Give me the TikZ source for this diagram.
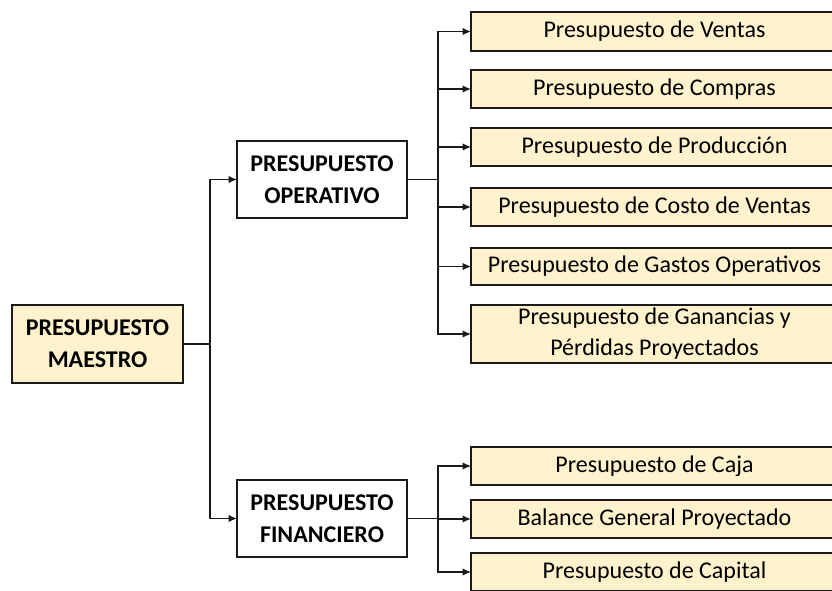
\documentclass[tikz,border=0pt]{standalone}
\usepackage{fontspec}
\setmainfont{Carlito}
\usetikzlibrary{arrows.meta}
\definecolor{boxfill}{HTML}{FFF2CC}
\definecolor{linec}{HTML}{1A1A1A}
\begin{document}
\begin{tikzpicture}[x=1pt,y=-1pt,
  every node/.style={inner sep=0pt, outer sep=0pt},
  mainbox/.style={draw=linec, line width=1.3pt, align=center,
    font=\fontsize{24}{32}\selectfont\bfseries, text=black},
  leafbox/.style={draw=linec, line width=1.3pt, fill=boxfill, align=center,
    minimum width=367pt, font=\fontsize{24}{31}\selectfont, text=black},
  conn/.style={line width=1.3pt, draw=linec},
  arr/.style={conn, -{Latex[length=8.5pt,width=7.5pt]}}]
\clip (0,0) rectangle (832,590);
\useasboundingbox (0,0) rectangle (832,590);
% left boxes
\node[mainbox, fill=boxfill, minimum width=171pt, minimum height=78pt] (maestro) at (97.5,344) {PRESUPUESTO\\MAESTRO};
\node[mainbox, fill=white, minimum width=170pt, minimum height=77pt] (operativo) at (322,179.5) {PRESUPUESTO\\OPERATIVO};
\node[mainbox, fill=white, minimum width=170pt, minimum height=77pt] (financiero) at (322,518.5) {PRESUPUESTO\\FINANCIERO};
% right boxes
\node[leafbox, minimum height=39pt] (ventas) at (654.5,31.5) {Presupuesto de Ventas};
\node[leafbox, minimum height=38pt] (compras) at (654.5,89) {Presupuesto de Compras};
\node[leafbox, minimum height=38pt] (produccion) at (654.5,147) {Presupuesto de Producción};
\node[leafbox, minimum height=38pt] (costo) at (654.5,207) {Presupuesto de Costo de Ventas};
\node[leafbox, minimum height=37pt] (gastos) at (654.5,266.5) {Presupuesto de Gastos Operativos};
\node[leafbox, minimum height=58pt] (ganancias) at (654.5,334) {Presupuesto de Ganancias y\\Pérdidas Proyectados};
\node[leafbox, minimum height=38pt] (caja) at (654.5,466) {Presupuesto de Caja};
\node[leafbox, minimum height=38pt] (balance) at (654.5,519) {Balance General Proyectado};
\node[leafbox, minimum height=38pt] (capital) at (654.5,572) {Presupuesto de Capital};
% connectors
\coordinate (b1) at (210,344);
\coordinate (b2) at (438,179.5);
\coordinate (b3) at (438,518.5);
\draw[conn] (maestro.east) -- (b1);
\draw[arr] (b1) |- (operativo.west);
\draw[arr] (b1) |- (financiero.west);
\draw[conn] (operativo.east) -- (b2);
\foreach \n in {ventas,compras,produccion,costo,gastos,ganancias}
  \draw[arr] (b2) |- (\n.west);
\draw[conn] (financiero.east) -- (b3);
\foreach \n in {caja,balance,capital}
  \draw[arr] (b3) |- (\n.west);
\end{tikzpicture}
\end{document}
